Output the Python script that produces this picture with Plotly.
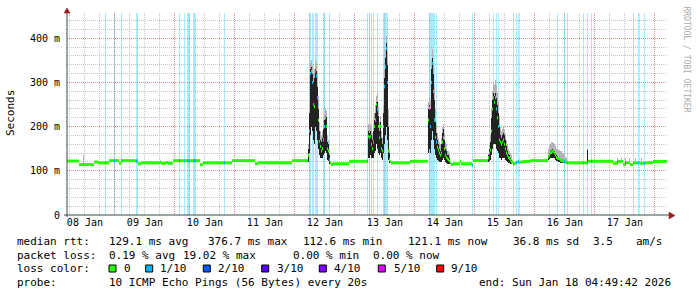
import numpy as np
import pandas as pd
import plotly.graph_objects as go

START = pd.Timestamp("2026-01-08 04:49:42")
END = pd.Timestamp("2026-01-18 04:49:42")
SPAN_H = 240.0
COL_H = 0.4          # one graph column = 24 minutes
Y_TOP = 457

# ---- median rtt (ms): segment start (hours after START) and value ----
median_hours = [
    0.0, 4.8, 10.8, 12.4, 16.8, 20.8, 21.6, 27.2, 28.4, 29.6, 37.2, 37.6, 39.6, 40.4,
    42.4, 53.2, 54.4, 66.0, 75.2, 76.4, 90.0,
    96.4, 96.8, 97.2, 97.6, 98.0, 98.4, 98.8, 99.2, 99.6, 100.0, 100.4, 100.8, 101.2,
    101.6, 102.0, 102.4, 102.8, 103.2, 103.6, 104.0, 104.4, 104.8,
    105.2, 105.6, 106.4, 112.8, 120.0,
    120.4, 120.8, 121.2, 121.6, 122.0, 122.4, 122.8, 123.2, 123.6, 124.0, 124.4, 124.8,
    125.2, 125.6, 126.0, 126.4, 126.8, 127.2, 127.6, 128.0, 128.4, 128.8,
    129.2, 129.6, 137.2,
    144.4, 144.8, 145.2, 145.6, 146.0, 146.4, 146.8, 147.2, 147.6, 148.0, 148.4, 148.8,
    149.2, 149.6, 150.0, 150.4, 150.8, 151.2, 151.6, 152.0, 152.4, 152.8,
    153.2, 153.6, 154.4, 157.2, 157.6, 162.0, 162.4,
    168.4, 168.8, 169.2, 169.6, 170.0, 170.4, 170.8, 171.2, 171.6, 172.0, 172.4, 172.8,
    173.2, 173.6, 174.0, 174.4, 174.8, 175.2, 175.6, 176.0, 176.4, 176.8, 177.2, 177.6,
    178.4, 179.2, 180.0, 182.4, 185.2,
    192.4, 192.8, 193.2, 193.6, 194.0, 194.4, 194.8, 195.2, 195.6, 196.0, 196.4, 196.8,
    197.2, 197.6, 198.0, 198.4, 198.8, 199.2, 199.6,
    200.0, 208.4, 218.4, 220.4, 222.4, 223.6, 225.2, 226.4, 229.2, 231.2, 234.4,
]
median_ms = [
    122, 114, 120, 118, 123, 117, 123, 122, 116, 118, 120, 117, 119, 117,
    123, 114, 118, 123, 116, 118, 123,
    135, 190, 320, 325, 300, 250, 245, 325, 315, 265, 215, 167, 155,
    145, 150, 170, 200, 220, 200, 150, 145, 125,
    118, 114, 116, 121.5, 122,
    178, 175, 178, 160, 150, 165, 200, 215, 250, 240, 200, 175,
    200, 150, 145, 200, 290, 335, 376.7, 300, 145, 125,
    121, 118, 121.5,
    215, 242, 200, 300, 343, 280, 215, 176, 165, 153, 147, 140,
    135, 140, 165, 175, 150, 135, 130, 127, 125, 122,
    118, 114, 116, 121, 116, 112.6, 123,
    130, 140, 147, 190, 240, 265, 255, 265, 240, 220, 200, 170,
    165, 160, 165, 170, 160, 150, 140, 135, 130, 128, 124, 120,
    116, 118, 120, 121, 123,
    132, 136, 140, 142, 144, 143, 140, 136, 130, 129, 128, 127,
    124, 123, 122, 122, 122, 120, 119,
    118, 121.5, 117, 121, 114, 118, 114, 118, 117, 118, 121.1,
]

# ---- smoke (spread of the 10 pings) per column ----
smoke_hours = [
    6.4,
    96.4, 96.8, 97.2, 97.6, 98.0, 98.4, 98.8, 99.2, 99.6, 100.0, 100.4, 100.8, 101.2,
    101.6, 102.0, 102.4, 102.8, 103.2, 103.6, 104.0, 104.4, 104.8,
    120.4, 120.8, 121.2, 121.6, 122.0, 122.4, 122.8, 123.2, 123.6, 124.0, 124.4, 124.8,
    125.2, 125.6, 126.0, 126.4, 126.8, 127.2, 127.6, 128.0, 128.4, 128.8,
    144.4, 144.8, 145.2, 145.6, 146.0, 146.4, 146.8, 147.2, 147.6, 148.0, 148.4, 148.8,
    149.2, 149.6, 150.0, 150.4, 150.8, 151.2, 151.6, 152.0, 152.4, 152.8,
    168.4, 168.8, 169.2, 169.6, 170.0, 170.4, 170.8, 171.2, 171.6, 172.0, 172.4, 172.8,
    173.2, 173.6, 174.0, 174.4, 174.8, 175.2, 175.6, 176.0, 176.4, 176.8, 177.2, 177.6,
    192.4, 192.8, 193.2, 193.6, 194.0, 194.4, 194.8, 195.2, 195.6, 196.0, 196.4, 196.8,
    197.2, 197.6, 198.0, 198.4, 198.8, 199.2, 199.6,
    208.0, 220.0, 221.6, 223.2, 224.8, 227.2, 229.6,
]
smoke_lo = [
    114,
    120, 140, 180, 200, 190, 170, 160, 200, 190, 170, 150, 135, 130,
    128, 130, 135, 140, 145, 140, 125, 122, 115,
    130, 130, 135, 130, 128, 130, 140, 145, 160, 150, 140, 135,
    140, 130, 125, 140, 160, 180, 200, 170, 125, 118,
    140, 150, 140, 170, 190, 170, 150, 135, 130, 125, 122, 120,
    120, 120, 125, 128, 125, 120, 118, 116, 116, 116,
    120, 122, 125, 135, 150, 160, 160, 160, 150, 145, 140, 130,
    128, 125, 128, 130, 128, 125, 122, 120, 118, 118, 116, 116,
    125, 127, 128, 130, 130, 130, 128, 125, 122, 122, 120, 120,
    118, 118, 118, 118, 117, 117, 117,
    119, 119, 119, 116, 116, 116, 116,
]
smoke_hi = [
    116,
    150, 230, 330, 335, 320, 300, 310, 330, 325, 290, 240, 190, 170,
    165, 175, 195, 215, 225, 222, 165, 160, 135,
    190, 185, 190, 180, 170, 190, 215, 230, 255, 255, 225, 190,
    210, 175, 160, 230, 310, 355, 390, 340, 200, 140,
    240, 250, 240, 330, 355, 320, 260, 210, 185, 170, 160, 150,
    145, 160, 185, 195, 170, 150, 145, 135, 135, 130,
    135, 150, 165, 220, 260, 275, 270, 275, 265, 250, 230, 200,
    180, 175, 180, 185, 180, 170, 155, 145, 138, 135, 128, 125,
    136, 140, 145, 148, 150, 148, 145, 140, 135, 134, 132, 130,
    127, 126, 125, 124, 123, 122, 121,
    148, 123, 123, 120, 120, 120, 120,
]
smoke_max = [
    136,
    160, 260, 345, 350, 340, 320, 330, 350, 345, 320, 270, 210, 190,
    180, 190, 215, 230, 240, 235, 180, 170, 145,
    205, 200, 205, 195, 185, 205, 230, 250, 270, 275, 245, 210,
    225, 190, 175, 250, 330, 375, 405, 370, 240, 150,
    255, 265, 260, 350, 375, 345, 290, 240, 205, 185, 175, 165,
    160, 175, 200, 205, 185, 165, 160, 145, 145, 140,
    140, 160, 180, 240, 280, 300, 295, 305, 295, 275, 255, 225,
    200, 190, 195, 200, 195, 185, 170, 160, 150, 145, 140, 135,
    150, 155, 160, 165, 165, 163, 160, 155, 150, 150, 148, 146,
    145, 144, 140, 138, 136, 132, 130,
    150, 130, 131, 129, 128, 129, 128,
]

# ---- packet loss (1/10) columns and the median at those columns ----
loss_hours = [
    15.2, 18.8, 21.6, 27.6, 28.0, 44.8, 46.8, 48.0, 48.4, 48.8, 50.4, 50.8, 51.2, 62.8,
    96.8, 97.2, 98.0, 98.4, 99.2, 99.6, 100.0, 102.4, 102.8, 104.8,
    120.0, 120.8, 121.6, 122.4, 124.0, 126.4, 126.8, 127.2, 127.6, 128.0,
    144.8, 145.2, 145.6, 146.0, 146.4, 146.8, 147.6, 162.0,
    170.4, 171.6, 172.4, 178.4, 179.6, 180.4,
    196.0, 198.8, 200.0, 206.4, 208.0, 209.6, 226.4, 228.4, 230.8,
]
loss_median_ms = [
    118, 123, 123, 122, 122, 123, 123, 123, 123, 123, 123, 123, 123, 118,
    190, 320, 300, 250, 325, 315, 265, 170, 200, 125,
    122, 175, 160, 165, 240, 200, 290, 335, 376.7, 300,
    242, 200, 300, 343, 280, 215, 165, 112.6,
    265, 240, 200, 116, 118, 120,
    129, 122, 118, 118, 118, 121.5, 118, 118, 117,
]

legend_labels = ["0", "1/10", "2/10", "3/10", "4/10", "5/10", "9/10"]
legend_colors = ["#26ff00", "#00b8ff", "#0059ff", "#5e00ff", "#7e00ff", "#dd00ff", "#ff0000"]

ytick_vals = [0, 100, 200, 300, 400]
ytick_text = ["0", "100 m", "200 m", "300 m", "400 m"]

MONO = "DejaVu Sans Mono"
GREEN = legend_colors[0]
BLUE = legend_colors[1]
COL_MS = COL_H * 3600 * 1000


def ts(h):
    return (START + pd.Timedelta(hours=float(h))).strftime("%Y-%m-%d %H:%M:%S")


def segments(starts, values, ends):
    xs, ys = [], []
    for a, b, v in zip(starts, ends, values):
        xs += [ts(a), ts(b), None]
        ys += [v, v, None]
    return xs, ys


fig = go.Figure()

# loss background bars
fig.add_trace(go.Bar(
    x=[ts(h) for h in loss_hours], y=[Y_TOP] * len(loss_hours), base=0,
    width=COL_MS, offset=0, marker=dict(color="rgba(0,184,255,0.32)", line=dict(width=0)),
    hoverinfo="skip"))

# smoke: light outer part and dark core
lo = np.array(smoke_lo, float)
hi = np.array(smoke_hi, float)
mx = np.array(smoke_max, float)
sx = [ts(h) for h in smoke_hours]
fig.add_trace(go.Bar(x=sx, y=mx - lo, base=lo, width=COL_MS, offset=0,
                     marker=dict(color="#b4b4b4", line=dict(width=0)), hoverinfo="skip"))
fig.add_trace(go.Bar(x=sx, y=(hi - lo), base=lo, width=COL_MS, offset=0,
                     marker=dict(color="#222222", line=dict(width=0)), hoverinfo="skip"))

# median rtt (0 loss) as short blocks per segment
ends = list(median_hours[1:]) + [SPAN_H]
mxs, mys = segments(median_hours, median_ms, ends)
fig.add_trace(go.Scatter(x=mxs, y=mys, mode="lines", line=dict(color=GREEN, width=3),
                         hoverinfo="skip"))

# median rtt at columns with 1/10 loss
lends = [h + COL_H for h in loss_hours]
lxs, lys = segments(loss_hours, loss_median_ms, lends)
fig.add_trace(go.Scatter(x=lxs, y=lys, mode="lines", line=dict(color=BLUE, width=3),
                         hoverinfo="skip"))

MAJOR = "#e28c8c"
MINOR = "#c4c4c4"
DASH = "1px,1px"

fig.update_xaxes(
    type="date", range=[START, END], tick0="2026-01-08 00:00:00", dtick=86400000,
    tickformat="%d %b", ticklabelmode="period", ticks="", showline=False, zeroline=False,
    showgrid=True, gridcolor=MAJOR, griddash=DASH, gridwidth=1,
    minor=dict(dtick=6 * 3600 * 1000, tick0="2026-01-08 00:00:00", showgrid=True,
               gridcolor=MINOR, griddash=DASH, gridwidth=1),
    tickfont=dict(family=MONO, size=10, color="#000"), fixedrange=True,
)
fig.update_yaxes(
    range=[0, Y_TOP], tickvals=ytick_vals, ticktext=ytick_text, ticks="",
    showline=False, zeroline=False, showgrid=True, gridcolor=MAJOR, griddash=DASH,
    minor=dict(dtick=20, showgrid=True, gridcolor=MINOR, griddash=DASH),
    tickfont=dict(family=MONO, size=10, color="#000"), ticklabelstandoff=6, fixedrange=True,
)

L, T, W, H = 67, 13, 600, 202


def px2x(px):
    return (px - L) / W


def py2y(py):
    return (T + H - py) / H


shapes = []
AXIS = "#3a4a44"
ARROW = "#9b1c1c"
shapes.append(dict(type="line", xref="paper", yref="paper", x0=0, x1=0,
                   y0=py2y(217), y1=py2y(11), line=dict(color=AXIS, width=1)))
shapes.append(dict(type="line", xref="paper", yref="paper", x0=px2x(64), x1=px2x(670),
                   y0=0, y1=0, line=dict(color=AXIS, width=1)))
shapes.append(dict(type="path", xref="paper", yref="paper",
                   path=f"M {px2x(64)},{py2y(13)} L {px2x(70)},{py2y(13)} L {px2x(67)},{py2y(8)} Z",
                   fillcolor=ARROW, line=dict(color=ARROW, width=0.5)))
shapes.append(dict(type="path", xref="paper", yref="paper",
                   path=f"M {px2x(669)},{py2y(212)} L {px2x(669)},{py2y(219)} L {px2x(675)},{py2y(215.5)} Z",
                   fillcolor=ARROW, line=dict(color=ARROW, width=0.5)))

box_x = [109, 145.7, 203.3, 261.7, 319.3, 378.3, 436.7]
for bx, c in zip(box_x, legend_colors):
    shapes.append(dict(type="rect", xref="paper", yref="paper",
                       x0=px2x(bx), x1=px2x(bx + 7), y0=py2y(272), y1=py2y(265),
                       fillcolor=c, line=dict(color="#000", width=1)))

ann = []


def txt(s, px, py, size=11, color="#000", **kw):
    d = dict(text=s, xref="paper", yref="paper", x=0, y=0, xshift=px - L,
             yshift=(T + H) - py, xanchor="left", yanchor="middle", showarrow=False,
             borderpad=0, font=dict(family=MONO, size=size, color=color))
    d.update(kw)
    return d


line1 = [("median rtt:", 16), ("129.1 ms avg", 108), ("376.7 ms max", 207),
         ("112.6 ms min", 302), ("121.1 ms now", 407), ("36.8 ms sd", 512),
         ("3.5", 592), ("am/s", 635)]
line2 = [("packet loss:", 16), ("0.19 % avg", 108), ("19.02 % max", 182),
         ("0.00 % min", 292), ("0.00 % now", 372)]
line4 = [("probe:", 16), ("10 ICMP Echo Pings (56 Bytes) every 20s", 108),
         ("end: Sun Jan 18 04:49:42 2026", 478)]
for s, px in line1:
    ann.append(txt(s, px, 241))
for s, px in line2:
    ann.append(txt(s, px, 255))
ann.append(txt("loss color:", 16, 268.5))
label_x = [122.7, 159.3, 217.3, 276, 333.3, 392.7, 450]
for s, px in zip(legend_labels, label_x):
    ann.append(txt(s, px, 268.5))
for s, px in line4:
    ann.append(txt(s, px, 282.5))

ann.append(dict(text="Seconds", xref="paper", yref="paper", x=0, y=0,
                xshift=10 - L, yshift=(T + H) - 113, textangle=-90, showarrow=False,
                xanchor="center", yanchor="middle",
                font=dict(family=MONO, size=11, color="#000")))
ann.append(dict(text="RRDTOOL / TOBI OETIKER", xref="paper", yref="paper", x=0, y=0,
                xshift=686.5 - L, yshift=(T + H) - 59, textangle=90, showarrow=False,
                xanchor="center", yanchor="middle",
                font=dict(family=MONO, size=8, color="#ababab")))

fig.update_layout(
    width=697, height=297, autosize=False,
    margin=dict(l=L, r=697 - L - W, t=T, b=297 - T - H, pad=0),
    paper_bgcolor="#ffffff", plot_bgcolor="#ffffff",
    barmode="overlay", bargap=0, showlegend=False,
    font=dict(family=MONO, size=11, color="#000"),
    shapes=shapes, annotations=ann,
)

fig.write_html("out.html")
